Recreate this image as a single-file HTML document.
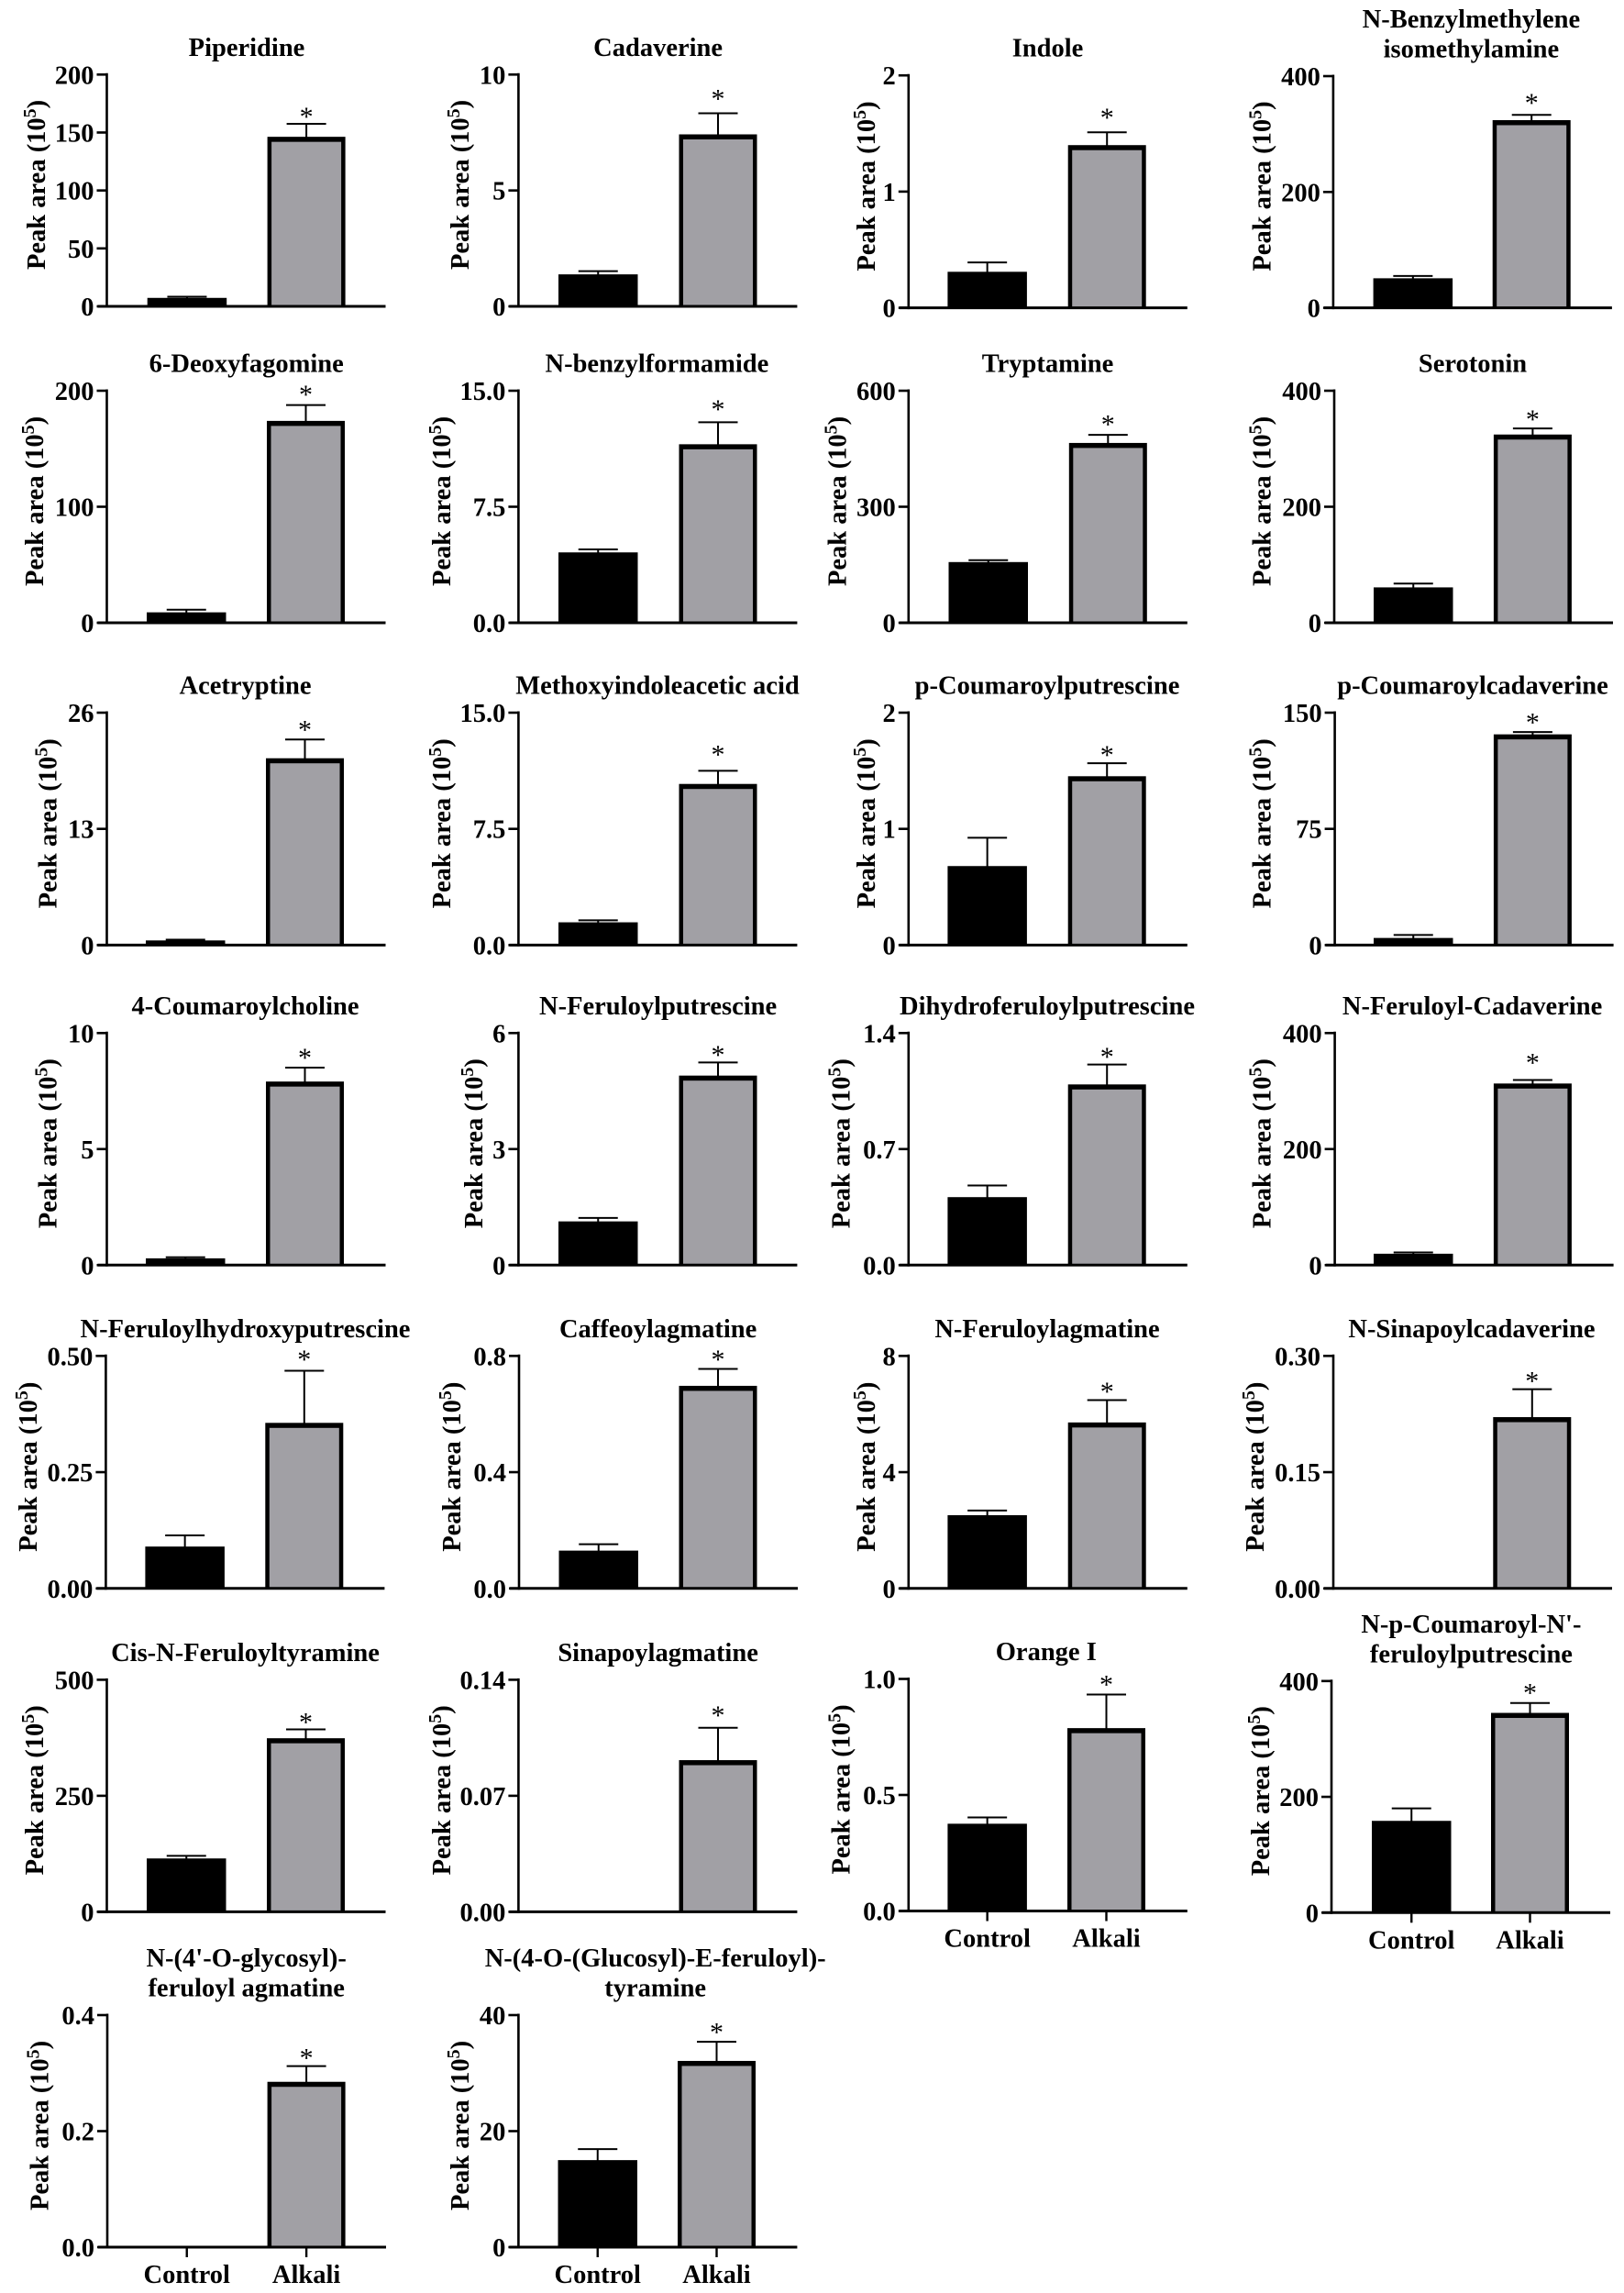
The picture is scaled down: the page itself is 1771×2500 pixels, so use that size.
<!DOCTYPE html>
<html lang="en">
<head>
<meta charset="utf-8">
<title>Peak area of metabolites: Control vs Alkali</title>
<style>
html,body{margin:0;padding:0;background:#fff;width:1771px;height:2500px;overflow:hidden}
svg{display:block}
text{font-family:"Liberation Serif",serif;fill:#000}
</style>
</head>
<body>
<svg id="figure" xmlns="http://www.w3.org/2000/svg" width="1771" height="2500" viewBox="0 0 1771 2500"></svg>
<script>
// ---- chart values ----
const chartTitles = [
  ["Piperidine"],["Cadaverine"],["Indole"],["N-Benzylmethylene","isomethylamine"],
  ["6-Deoxyfagomine"],["N-benzylformamide"],["Tryptamine"],["Serotonin"],
  ["Acetryptine"],["Methoxyindoleacetic acid"],["p-Coumaroylputrescine"],["p-Coumaroylcadaverine"],
  ["4-Coumaroylcholine"],["N-Feruloylputrescine"],["Dihydroferuloylputrescine"],["N-Feruloyl-Cadaverine"],
  ["N-Feruloylhydroxyputrescine"],["Caffeoylagmatine"],["N-Feruloylagmatine"],["N-Sinapoylcadaverine"],
  ["Cis-N-Feruloyltyramine"],["Sinapoylagmatine"],["Orange I"],["N-p-Coumaroyl-N'-","feruloylputrescine"],
  ["N-(4'-O-glycosyl)-","feruloyl agmatine"],["N-(4-O-(Glucosyl)-E-feruloyl)-","tyramine"]
];
const tickLabels = [
  ["0","50","100","150","200"],["0","5","10"],["0","1","2"],["0","200","400"],
  ["0","100","200"],["0.0","7.5","15.0"],["0","300","600"],["0","200","400"],
  ["0","13","26"],["0.0","7.5","15.0"],["0","1","2"],["0","75","150"],
  ["0","5","10"],["0","3","6"],["0.0","0.7","1.4"],["0","200","400"],
  ["0.00","0.25","0.50"],["0.0","0.4","0.8"],["0","4","8"],["0.00","0.15","0.30"],
  ["0","250","500"],["0.00","0.07","0.14"],["0.0","0.5","1.0"],["0","200","400"],
  ["0.0","0.2","0.4"],["0","20","40"]
];
const controlMeans = [7.3,1.38,0.31,51, 9,4.55,157,61, 0.52,1.47,0.68,4.6, 0.29,1.13,0.41,19.6, 0.09,0.13,2.52,0, 115,0,0.376,158.5, 0,15];
const controlTops  = [8.3,1.52,0.39,55, 11.3,4.74,162,67.5, 0.61,1.6,0.924,6.5, 0.34,1.22,0.48,21.8, 0.114,0.152,2.68,0, 120.7,0,0.403,180, 0,16.9];
const alkaliMeans  = [146.3,7.42,1.4,324, 174,11.54,465,324.5, 20.9,10.4,1.453,136, 7.91,4.9,1.09,313, 0.356,0.697,5.71,0.221, 374,0.0915,0.788,345, 0.285,32.1];
const alkaliTops   = [157.5,8.33,1.51,333, 187.6,12.96,486,335, 23,11.25,1.565,137.5, 8.51,5.24,1.21,319, 0.468,0.755,6.48,0.257, 393,0.111,0.933,362, 0.312,35.4];
const groupLabels = ["Control","Alkali"];
const yAxisText = "Peak area (10";
const yAxisExponent = "5";
const significanceMark = "*";

// ---- page layout (not data): axisX, plotTop, plotBottom, yTitleBaselineX, titleCenterX, barA, barB, starGap, labelled ----
const panelLayout = [
  [116.5,81.3,334,48.8,269,160.7,291.6,11,0],[565.4,81.3,334,511,717.6,609,740.5,18.8,0],[990.8,82.2,335.6,954,1142.5,1033.4,1164.7,19.3,0],[1453.9,83,335.6,1385.7,1604.4,1497.6,1627.7,16.5,0],
  [116.5,426,679,47,268.7,160,291,14.7,0],[565.4,426,679,491,716.4,609,740.5,17.4,0],[990.8,426,679,922.6,1142.5,1034.5,1165.8,14.7,0],[1455,426,679,1385.7,1606,1498,1628.9,13.3,0],
  [116.5,777,1030.4,61.4,267.5,159,290,13.8,0],[565.4,777,1030.4,491,717,609,740.5,20.7,0],[990.8,777,1030.4,954,1142,1033.4,1164.7,12,0],[1455.6,777,1030.4,1385.7,1606,1498,1628.9,13.8,0],
  [116.5,1126.3,1379.3,61.4,267.5,159,290,13.8,0],[565.4,1126.3,1379.3,526,717.6,609,740.5,11.5,0],[990.8,1126.3,1379.3,926.6,1142,1033.4,1164.7,11.5,0],[1455.6,1126.3,1379.3,1385.7,1605.6,1498,1628.9,22,0],
  [115.4,1478.3,1731.8,40,267.5,158.4,289.3,15.6,0],[566,1478.3,1731.8,502,717.6,609.5,740.5,13.8,0],[990.8,1478.3,1731.8,954,1142,1033.4,1164.7,12.4,0],[1454,1478.3,1731.8,1378,1605,1498,1628.3,12,0],
  [116.5,1831.4,2084.4,47,267.5,160,291,11,0],[565.4,1831.4,2084.4,491,717.6,609,740.5,17,0],[990.8,1830.5,2083.5,926.6,1140.8,1033.4,1164,14.2,1],[1452,1832.8,2085.3,1384,1604.4,1496,1626,14.2,1],
  [117,2197,2450,52.7,268.7,160.5,291.6,12,1],[565.4,2197,2450,511,714.7,608.5,739,13.4,1]
];
const AXIS_LENGTH = 304, BAR_W_A = 86.5, BAR_W_B = 85, CAP_W = 43, FONT = 28.5;
const SVGNS = "http://www.w3.org/2000/svg";
const figure = document.getElementById("figure");

function make(parent, tag, attrs, content) {
  const el = document.createElementNS(SVGNS, tag);
  for (const key in attrs) el.setAttribute(key, attrs[key]);
  if (content !== undefined) el.textContent = content;
  parent.appendChild(el);
  return el;
}
// axis functions
function axisMax(i) { const t = tickLabels[i]; return parseFloat(t[t.length - 1]); }
function yScale(i, value) {
  const l = panelLayout[i];
  return l[2] - (value / axisMax(i)) * (l[2] - l[1]);
}
function xBand(i, group) { return panelLayout[i][group === 0 ? 5 : 6]; }
function bandWidth(group) { return group === 0 ? BAR_W_A : BAR_W_B; }
function xCenter(i, group) { return xBand(i, group) + bandWidth(group) / 2; }

function line(parent, x1, y1, x2, y2, width, name) {
  const el = make(parent, "line", {x1, y1, x2, y2, stroke: "#000", "stroke-width": width});
  
  
  return el;
}
function drawBar(g, i, group, mean, top) {
  const bottom = panelLayout[i][2];
  const cx = xCenter(i, group);
  if (mean <= 0) return;
  line(g, cx, yScale(i, mean) + 1, cx, yScale(i, top), 2, group === 0 ? "control-error-bar" : "alkali-error-bar");
  line(g, cx - CAP_W / 2, yScale(i, top), cx + CAP_W / 2, yScale(i, top), 2, group === 0 ? "control-error-cap" : "alkali-error-cap");
  const y = yScale(i, mean);
  let bar;
  if (group === 0) {
    bar = make(g, "rect", {x: xBand(i, 0), y: y, width: BAR_W_A, height: bottom - y, fill: "#000"});
    
  } else {
    make(g, "rect", {x: xBand(i, 1), y: y, width: BAR_W_B, height: bottom - y, fill: "#000"});
    bar = make(g, "rect", {x: xBand(i, 1) + 4.5, y: y + 5.5, width: BAR_W_B - 9, height: Math.max(bottom - y - 5.5, 0), fill: "#a1a0a5"});
    
  }
  
}

chartTitles.forEach(function (title, i) {
  const l = panelLayout[i];
  const g = make(figure, "g", {});
  
  

  // title
  title.forEach(function (row, r) {
    const rowY = l[1] - 20.5 - (title.length - 1 - r) * 32.5;
    const t = make(g, "text", {x: l[4], y: rowY, "text-anchor": "middle", "font-size": 28.5, "font-weight": "bold"}, row);
    
    
  });

  // y-axis title
  const yLabelY = l[2] - 40;
  const yt = make(g, "text", {transform: "translate(" + l[3] + "," + yLabelY + ") rotate(-90)", "font-size": FONT, "font-weight": "bold"});
  
  
  make(yt, "tspan", {}, yAxisText);
  make(yt, "tspan", {dy: -10, "font-size": 20}, yAxisExponent);
  make(yt, "tspan", {dy: 10}, ")");

  // bars
  drawBar(g, i, 0, controlMeans[i], controlTops[i]);
  drawBar(g, i, 1, alkaliMeans[i], alkaliTops[i]);

  // axes and ticks
  line(g, l[0], l[1] - 1.5, l[0], l[2] + 1.5, 2.6, "y-axis");
  line(g, l[0] - 10, l[2], l[0] + AXIS_LENGTH, l[2], 3, "x-axis");
  tickLabels[i].forEach(function (label) {
    const y = yScale(i, parseFloat(label));
    line(g, l[0] - 11, y, l[0], y, 2.6, "y-tick");
    const tx = make(g, "text", {x: l[0] - 14, y: y + 10, "text-anchor": "end", "font-size": FONT, "font-weight": "bold"}, label);
    
    
  });

  // significance star
  const star = make(g, "text", {x: xCenter(i, 1), y: yScale(i, alkaliTops[i]) - l[7] + 13, "text-anchor": "middle", "font-size": 30}, significanceMark);
  
  

  // category ticks and labels on the bottom panels
  if (l[8]) {
    groupLabels.forEach(function (name, group) {
      line(g, xCenter(i, group), l[2], xCenter(i, group), l[2] + 11, 2.4, "x-tick");
      const c = make(g, "text", {x: xCenter(i, group), y: l[2] + 39, "text-anchor": "middle", "font-size": FONT, "font-weight": "bold"}, name);
      
      
    });
  }
});
</script>
</body>
</html>
